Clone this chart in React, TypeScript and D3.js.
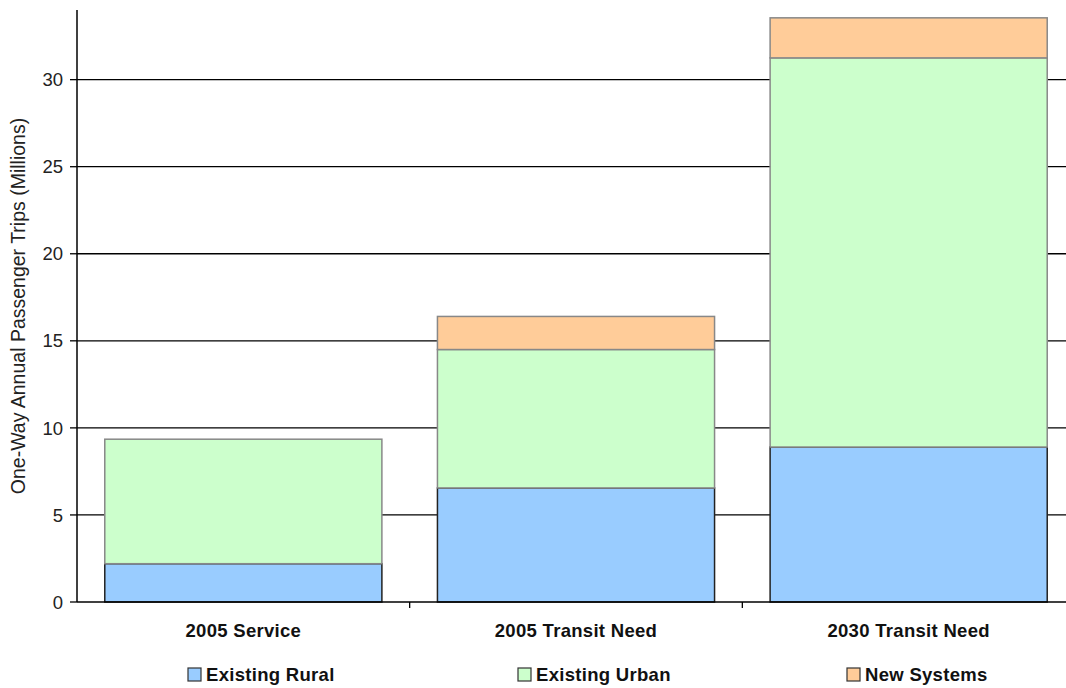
import React from "react";
import * as d3 from "d3";

const categories = ["2005 Service", "2005 Transit Need", "2030 Transit Need"];
const seriesNames = ["Existing Rural", "Existing Urban", "New Systems"];
const existingRural = [2.2, 6.55, 8.9];
const existingUrban = [7.15, 7.95, 22.35];
const newSystems = [0, 1.9, 2.3];
const yTicks = [0, 5, 10, 15, 20, 25, 30];
const colors = ["#99CCFF", "#CCFFCC", "#FFCC99"];
const strokes = ["#222", "#888", "#888"];

export default function App() {
  const W = 1066, H = 688;
  const x0 = 77, x1 = 1075, yTop = 10, yBot = 602;
  const x = d3.scaleBand<string>().domain(categories).range([x0, x1]).paddingInner(0.167).paddingOuter(0.0835);
  const y = d3.scaleLinear().domain([0, 34]).range([yBot, yTop]);
  const rows = categories.map((c, i) => ({ cat: c, r: existingRural[i], u: existingUrban[i], n: newSystems[i] }));
  const stack = d3.stack<any>().keys(["r", "u", "n"])(rows);
  const legendX = [188, 518, 847];
  const font = "Arial, 'Liberation Sans', sans-serif";
  const band = (x1 - x0) / categories.length;
  return (
    <svg width={W} height={H} style={{ position: "absolute", left: 0, top: 0, background: "#fff" }} fontFamily={font}>
      {yTicks.filter(t => t > 0).map(t => (
        <line key={t} x1={x0} x2={W} y1={y(t)} y2={y(t)} stroke="#000" strokeWidth={1.3} />
      ))}
      {stack.map((s, si) => s.map((d, i) => d[1] - d[0] > 0 ? (
        <rect key={si + "-" + i} x={x(categories[i])!} width={x.bandwidth()} y={y(d[1])} height={y(d[0]) - y(d[1])}
          fill={colors[si]} stroke={strokes[si]} strokeWidth={1.5} />
      ) : null))}
      <line x1={x0} x2={x0} y1={yTop} y2={yBot} stroke="#000" strokeWidth={1.5} />
      <line x1={x0} x2={W} y1={yBot} y2={yBot} stroke="#000" strokeWidth={1.5} />
      {yTicks.map(t => (
        <g key={t}>
          <line x1={x0 - 7} x2={x0} y1={y(t)} y2={y(t)} stroke="#000" strokeWidth={1.3} />
          <text x={x0 - 14} y={y(t)} dy="0.36em" textAnchor="end" fontSize={18.5} fill="#222">{t}</text>
        </g>
      ))}
      {[1, 2].map(k => (
        <line key={k} x1={x0 + band * k} x2={x0 + band * k} y1={yBot} y2={yBot + 6} stroke="#000" strokeWidth={1.3} />
      ))}
      {categories.map(c => (
        <text key={c} x={x(c)! + x.bandwidth() / 2} y={637} textAnchor="middle" fontSize={18.5} fontWeight="bold" fill="#111" letterSpacing={0.3}>{c}</text>
      ))}
      <text transform={`translate(25, ${(yTop + yBot) / 2}) rotate(-90)`} textAnchor="middle" fontSize={19.5} fill="#222">
        One-Way Annual Passenger Trips (Millions)
      </text>
      {seriesNames.map((n, i) => (
        <g key={n}>
          <rect x={legendX[i]} y={668} width={13} height={13} fill={colors[i]} stroke="#333" strokeWidth={1.2} />
          <text x={legendX[i] + 18} y={681} fontSize={18.5} fontWeight="bold" fill="#111" letterSpacing={0.3}>{n}</text>
        </g>
      ))}
    </svg>
  );
}
